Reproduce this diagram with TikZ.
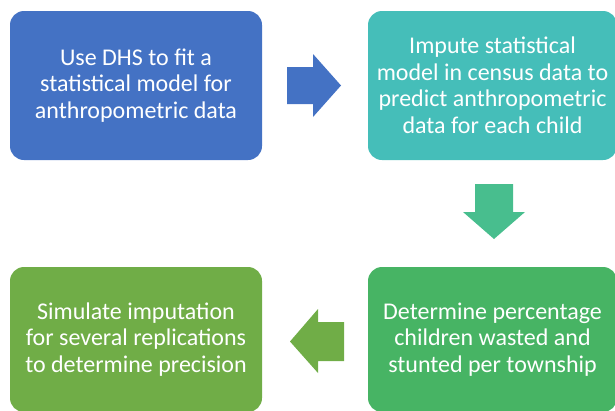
\documentclass[tikz,border=0pt]{standalone}
\usepackage{fontspec}
\setmainfont{Carlito}
\usepackage{tikz}

\definecolor{stepblue}{HTML}{4472C4}
\definecolor{stepteal}{HTML}{45BEB9}
\definecolor{stepmint}{HTML}{48BE8E}
\definecolor{stepgreen}{HTML}{47B464}
\definecolor{stepolive}{HTML}{70AD47}

\tikzset{
  stepbox/.style={rectangle, rounded corners=14pt, text=white, align=center,
    font=\fontsize{24}{26.5}\selectfont, inner sep=0pt}
}

\begin{document}
\begin{tikzpicture}[x=1pt,y=-1pt]
    \useasboundingbox (0,0) rectangle (615,410);
    \clip (0,0) rectangle (615,410);
    % the four steps
    \node[stepbox, fill=stepblue, minimum width=252pt, minimum height=149pt] (dhs) at (136,85.5)
        {Use DHS to fit a\\statistical model for\\anthropometric data};
    \node[stepbox, fill=stepteal, minimum width=249pt, minimum height=149pt] (impute) at (492.5,85.5)
        {Impute statistical\\model in census data to\\predict anthropometric\\data for each child};
    \node[stepbox, fill=stepgreen, minimum width=249pt, minimum height=145pt] (percent) at (492.5,339.5)
        {Determine percentage\\children wasted and\\stunted per township};
    \node[stepbox, fill=stepolive, minimum width=252pt, minimum height=145pt] (simulate) at (136,339.5)
        {Simulate imputation\\for several replications\\to determine precision};
    % block arrows
    \fill[stepblue]  (287,67) -- (313,67) -- (313,54) -- (341,85.5) -- (313,117) -- (313,104) -- (287,104) -- cycle;
    \fill[stepmint]  (475,184) -- (513,184) -- (513,212) -- (525,212) -- (494,239) -- (463,212) -- (475,212) -- cycle;
    \fill[stepolive] (344,322) -- (318,322) -- (318,309) -- (290,341.5) -- (318,373) -- (318,361) -- (344,361) -- cycle;
\end{tikzpicture}
\end{document}
